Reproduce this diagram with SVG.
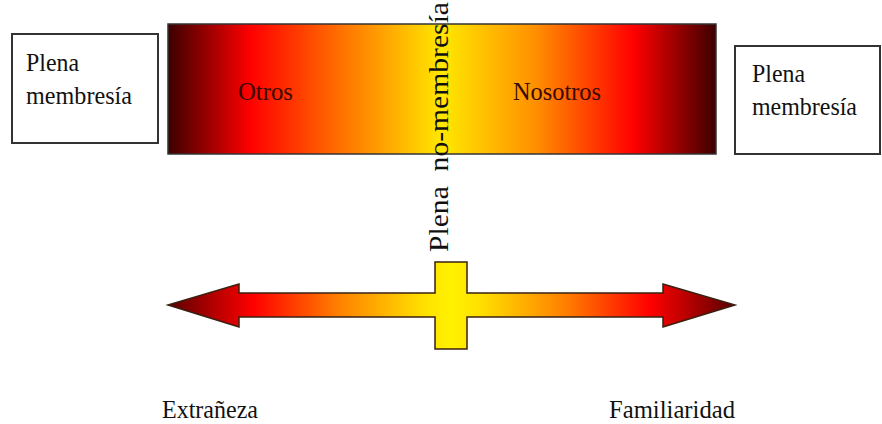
<svg xmlns="http://www.w3.org/2000/svg" width="882" height="424" viewBox="0 0 882 424">
<style>
.box{fill:#fff;stroke:#333;stroke-width:2}
.t{font-family:'Liberation Serif','DejaVu Serif',serif;font-size:26px;fill:#111}
.in{font-family:'Liberation Serif','DejaVu Serif',serif;font-size:26px;fill:#3a0a00}
</style>
<defs>
<linearGradient id="gBand" gradientUnits="userSpaceOnUse" x1="168" y1="0" x2="716" y2="0">
<stop offset="0" stop-color="#3c0000"/>
<stop offset="0.15" stop-color="#ff0000"/>
<stop offset="0.33" stop-color="#ff7a00"/>
<stop offset="0.5" stop-color="#ffe800"/>
<stop offset="0.67" stop-color="#ff9000"/>
<stop offset="0.85" stop-color="#ff0000"/>
<stop offset="1" stop-color="#3c0000"/>
</linearGradient>
<linearGradient id="gArrow" gradientUnits="userSpaceOnUse" x1="168" y1="0" x2="735" y2="0">
<stop offset="0" stop-color="#5a0000"/>
<stop offset="0.15" stop-color="#ff0000"/>
<stop offset="0.3" stop-color="#ff8000"/>
<stop offset="0.45" stop-color="#ffe000"/>
<stop offset="0.5" stop-color="#fff200"/>
<stop offset="0.55" stop-color="#ffe000"/>
<stop offset="0.7" stop-color="#ff8000"/>
<stop offset="0.85" stop-color="#ff0000"/>
<stop offset="1" stop-color="#5a0000"/>
</linearGradient>
</defs>
<g id="left-box">
<rect class="box" x="12" y="34" width="146" height="109"/>
<text class="t" x="26" y="71" textLength="53" lengthAdjust="spacingAndGlyphs">Plena</text>
<text class="t" x="26" y="104" textLength="106" lengthAdjust="spacingAndGlyphs">membresía</text>
</g>
<g id="right-box">
<rect class="box" x="735" y="46" width="145" height="108"/>
<text class="t" x="752" y="82" textLength="53" lengthAdjust="spacingAndGlyphs">Plena</text>
<text class="t" x="752" y="115" textLength="105" lengthAdjust="spacingAndGlyphs">membresía</text>
</g>
<g id="band">
<rect x="168" y="24" width="548" height="130" fill="url(#gBand)" stroke="#333" stroke-width="1.5"/>
<text class="in" x="238" y="100" textLength="55" lengthAdjust="spacingAndGlyphs">Otros</text>
<text class="in" x="513" y="100" textLength="88" lengthAdjust="spacingAndGlyphs">Nosotros</text>
</g>
<g id="axis">
<path d="M168,305 L239,284 L239,293 L435,293 L435,262 L467,262 L467,293 L663,293 L663,284 L735,305 L663,327 L663,317 L467,317 L467,349 L435,349 L435,317 L239,317 L239,327 Z" fill="url(#gArrow)" stroke="#3a2010" stroke-width="1.5"/>
</g>
<g id="vertical-label">
<text class="t" transform="translate(448,252) rotate(-90)" style="font-size:28px" textLength="250" lengthAdjust="spacingAndGlyphs" xml:space="preserve">Plena  no-membresía</text>
</g>
<g id="labels">
<text class="t" x="162" y="418" textLength="96" lengthAdjust="spacingAndGlyphs">Extrañeza</text>
<text class="t" x="609" y="418" textLength="126" lengthAdjust="spacingAndGlyphs">Familiaridad</text>
</g>
</svg>
